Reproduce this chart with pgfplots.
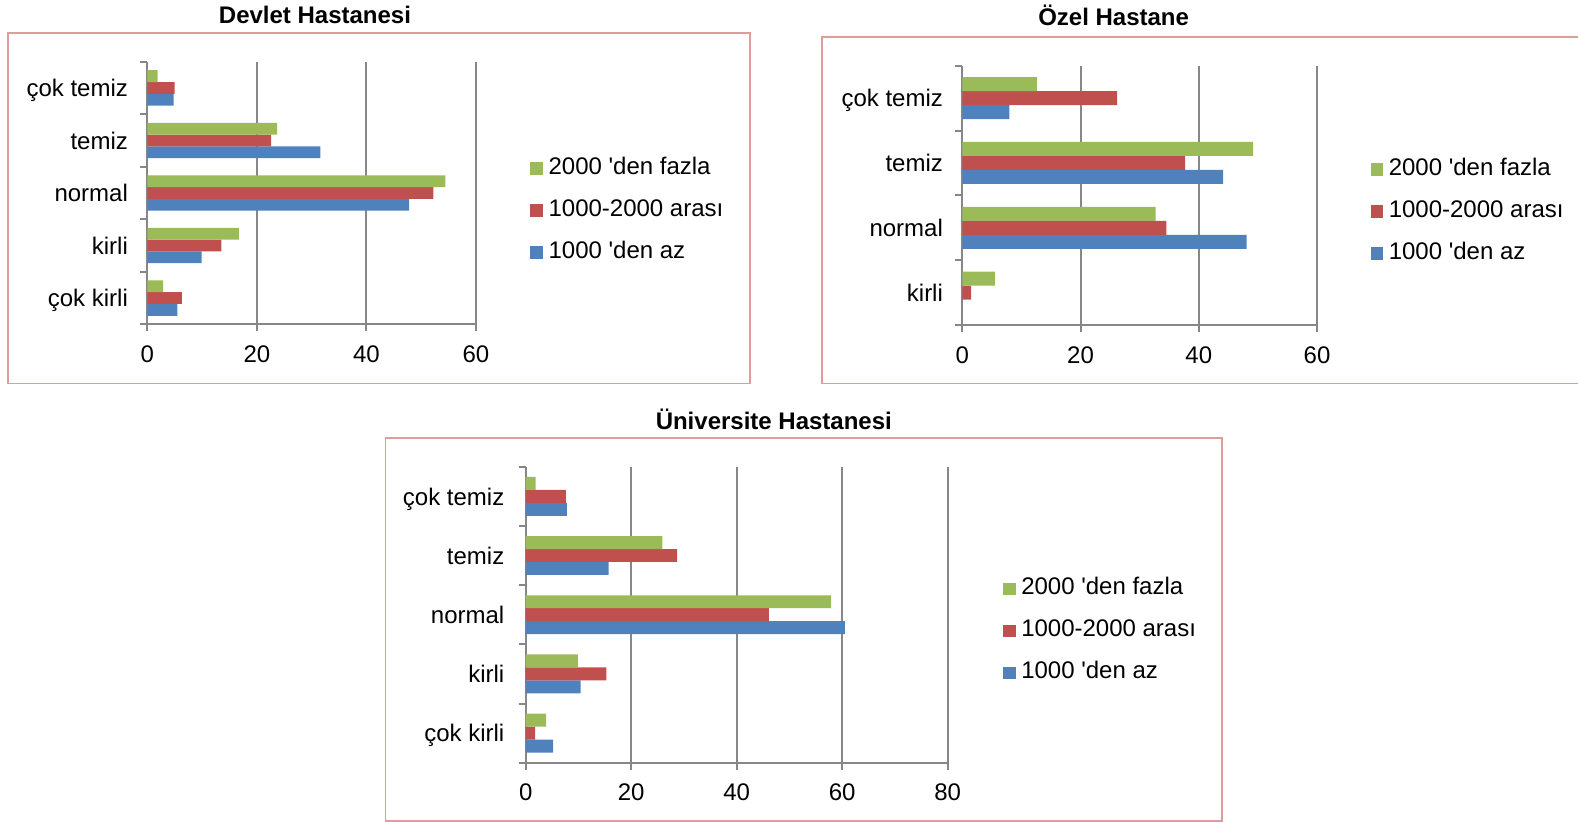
\documentclass[border=0pt]{standalone}
\usepackage{fontspec}
\setmainfont{Liberation Sans}
\usepackage{pgfplots}
\pgfplotsset{compat=1.18}
\definecolor{cblue}{HTML}{4F81BD}
\definecolor{cred}{HTML}{C0504D}
\definecolor{cgreen}{HTML}{9BBB59}
\definecolor{agray}{HTML}{878787}
\definecolor{frame}{HTML}{DE9C9A}
\pgfplotsset{
  hb/.style={
    xbar, scale only axis,
    axis lines*=left,
    axis line style={draw=agray, line width=1pt},
    xmin=0, ymin=-0.5,
    xmajorgrids, grid style={draw=agray, line width=1pt},
    tick align=outside, major tick length=3.5pt,
    tick style={draw=agray, line width=1pt},
    yticklabels={},
    extra y tick style={major tick length=0pt},
    yticklabel style={xshift=-5.5pt, text height=8.8pt, text depth=0pt},
    /pgf/number format/assume math mode=true,
    reverse legend,
    legend cell align=left,
    legend image code/.code={\fill[##1] (0pt,-3.2pt) rectangle (6.4pt,3.2pt);},
    legend style={draw=none, fill=none, row sep=9pt, column sep=2.7pt,
      nodes={inner sep=0pt, text height=9pt, text depth=3pt}},
    xticklabel style={yshift=-3pt},
  }
}
\begin{document}
\fontsize{12}{14.4}\selectfont
\begin{tikzpicture}[x=1pt,y=1pt]
\useasboundingbox (0,0) rectangle (789,-411);
% frames
\draw[frame, line width=0.8pt] (4,-16.6) rectangle (374.9,-191.7);
\draw[frame, line width=0.8pt] (411,-18.6) rectangle (795,-191.7);
\draw[frame, line width=0.8pt] (192.7,-218.9) rectangle (610.9,-410.6);
% titles
\node[font=\bfseries] at (157.5,-7.55) {Devlet Hastanesi};
\node[font=\bfseries] at (556.8,-7.55) {Özel Hastane};
\node[font=\bfseries] at (386.9,-209.8) {Üniversite Hastanesi};

% Chart 1
\begin{axis}[hb, at={(73.65pt,-162.15pt)}, anchor=south west,
  width=164.35pt, height=131.3pt,
  xmax=60, ymax=4.5, xtick={0,20,40,60},
  ytick={-0.5,0.5,1.5,2.5,3.5,4.5},
  extra y ticks={0,1,2,3,4},
  extra y tick labels={çok kirli,kirli,normal,temiz,çok temiz},
  bar width=0.225,
  legend style={at={(1.146,0.433)}, anchor=west}]
\addplot[fill=cblue, draw=none, bar shift=-0.225] coordinates {(5.5,0) (9.9,1) (47.8,2) (31.6,3) (4.8,4)};
\addplot[fill=cred, draw=none, bar shift=0] coordinates {(6.3,0) (13.5,1) (52.2,2) (22.6,3) (5.0,4)};
\addplot[fill=cgreen, draw=none, bar shift=0.225] coordinates {(2.9,0) (16.7,1) (54.4,2) (23.7,3) (1.9,4)};
\legend{1000 \textquotesingle den az,1000-2000 arası,2000 \textquotesingle den fazla}
\end{axis}

% Chart 2
\begin{axis}[hb, at={(481.15pt,-162.5pt)}, anchor=south west,
  width=177.35pt, height=129.65pt,
  xmax=60, ymax=3.5, xtick={0,20,40,60},
  ytick={-0.5,0.5,1.5,2.5,3.5},
  extra y ticks={0,1,2,3},
  extra y tick labels={kirli,normal,temiz,çok temiz},
  bar width=0.216,
  legend style={at={(1.133,0.4375)}, anchor=west}]
\addplot[fill=cblue, draw=none, bar shift=-0.216] coordinates {(0,0) (48.1,1) (44.1,2) (7.95,3)};
\addplot[fill=cred, draw=none, bar shift=0] coordinates {(1.5,0) (34.5,1) (37.7,2) (26.2,3)};
\addplot[fill=cgreen, draw=none, bar shift=0.216] coordinates {(5.5,0) (32.7,1) (49.2,2) (12.6,3)};
\legend{1000 \textquotesingle den az,1000-2000 arası,2000 \textquotesingle den fazla}
\end{axis}

% Chart 3
\begin{axis}[hb, at={(262.85pt,-381.35pt)}, anchor=south west,
  width=211pt, height=148pt,
  xmax=80, ymax=4.5, xtick={0,20,40,60,80},
  ytick={-0.5,0.5,1.5,2.5,3.5,4.5},
  extra y ticks={0,1,2,3,4},
  extra y tick labels={çok kirli,kirli,normal,temiz,çok temiz},
  yticklabel style={xshift=-1pt},
  bar width=0.219,
  legend style={at={(1.116,0.445)}, anchor=west}]
\addplot[fill=cblue, draw=none, bar shift=-0.219] coordinates {(5.2,0) (10.4,1) (60.5,2) (15.7,3) (7.8,4)};
\addplot[fill=cred, draw=none, bar shift=0] coordinates {(1.8,0) (15.3,1) (46.1,2) (28.7,3) (7.6,4)};
\addplot[fill=cgreen, draw=none, bar shift=0.219] coordinates {(3.85,0) (9.9,1) (57.9,2) (25.9,3) (1.9,4)};
\legend{1000 \textquotesingle den az,1000-2000 arası,2000 \textquotesingle den fazla}
\end{axis}
\end{tikzpicture}
\end{document}
